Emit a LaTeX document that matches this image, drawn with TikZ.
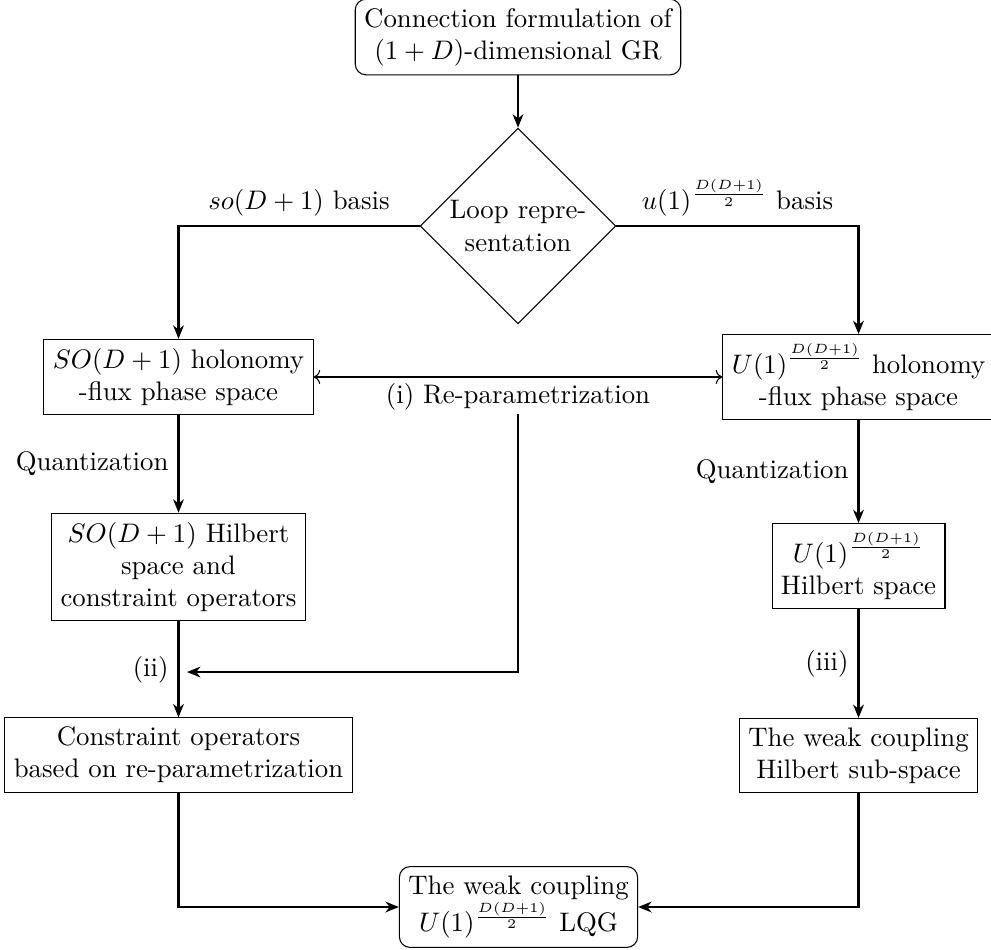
\documentclass[tikz,border=0pt]{standalone}
\usetikzlibrary{shapes.geometric,arrows.meta}
\begin{document}
\begin{tikzpicture}[x=0.3731pt,y=-0.3731pt,
  box/.style={draw,align=center,line width=0.4pt},
  rbox/.style={box,rounded corners=4pt},
  dia/.style={draw,diamond,aspect=1,inner sep=0pt,align=center,minimum width=73pt,minimum height=73pt},
  flow/.style={thick,-{Stealth[length=5pt,width=4pt,inset=1.6pt]}},
  lab/.style={inner sep=3.33pt}]
\useasboundingbox (0,0) rectangle (991,949);
\node[rbox] (top) at (518,37) {Connection formulation of\\$(1+D)$-dimensional GR};
\node[dia] (loop) at (518,226) {Loop repre-\\sentation};
\node[box] (a1) at (178.5,377) {$SO(D+1)$ holonomy\\-flux phase space};
\node[box] (b1) at (858.5,377) {$U(1)^{\frac{D(D+1)}{2}}$ holonomy\\-flux phase space};
\node (rp) at (518,397) {(i) Re-parametrization};
\node[box] (a2) at (178.5,567) {$SO(D+1)$ Hilbert\\space and\\constraint operators};
\node[box] (b2) at (858.5,566) {$U(1)^{\frac{D(D+1)}{2}}$\\Hilbert space};
\node[box] (a3) at (178.5,755) {Constraint operators\\based on re-parametrization};
\node[box] (b3) at (858.5,755.5) {The weak coupling\\Hilbert sub-space};
\node[rbox] (c) at (518.5,907) {The weak coupling\\$U(1)^{\frac{D(D+1)}{2}}$ LQG};
\coordinate (rpstart) at (518,414);
\coordinate (rpend) at (187,672);
\draw[flow] (top) -- (loop);
\draw[flow] (loop.west) -| node[pos=0.25,above,lab] {$so(D+1)$ basis} (a1.north);
\draw[flow] (loop.east) -| node[pos=0.25,above,lab] {$u(1)^{\frac{D(D+1)}{2}}$ basis} (b1.north);
\draw[<->] (a1.east) -- (a1.east -| b1.west);
\draw[flow] (a1) -- node[midway,left,lab] {Quantization} (a2);
\draw[flow] (b1) -- node[midway,left,lab] {Quantization} (b2);
\draw[flow] (a2) -- node[midway,left,lab] {(ii)} (a3);
\draw[flow] (b2) -- node[midway,left,lab] {(iii)} (b3);
\draw[flow] (rpstart) |- (rpend);
\draw[flow] (a3.south) |- (c.west);
\draw[flow] (b3.south) |- (c.east);
\end{tikzpicture}
\end{document}
